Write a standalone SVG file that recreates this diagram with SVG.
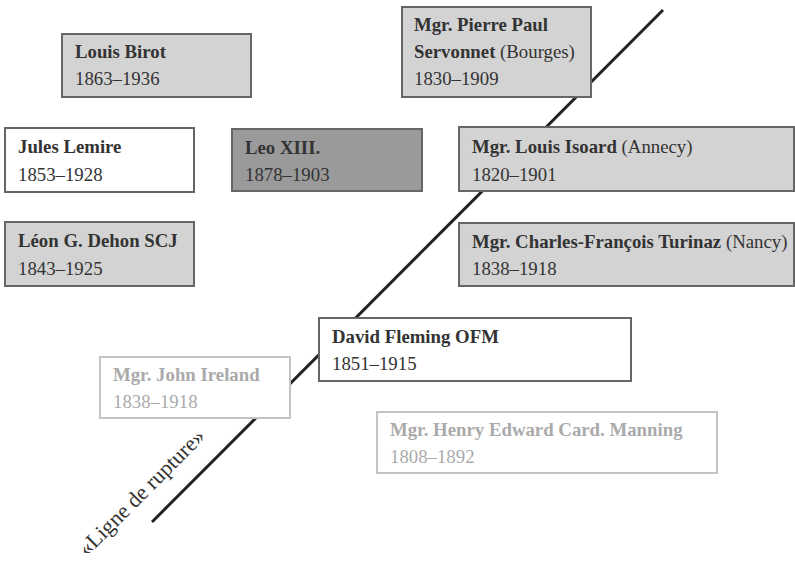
<svg xmlns="http://www.w3.org/2000/svg" width="795" height="562" viewBox="0 0 795 562">
<style>
text{font-family:"Liberation Serif","Times New Roman",serif;font-size:18.8px;fill:#333}
.b{font-weight:bold}
.box{fill:#d3d3d3;stroke:#666;stroke-width:2}
.white{fill:#fff;stroke:#666;stroke-width:2}
.dark{fill:#9a9a9a;stroke:#666;stroke-width:2}
.faint{fill:#fff;stroke:#c4c4c4;stroke-width:2}
.ft{fill:#aaa}
.line{stroke:#222;stroke-width:3;fill:none}
</style>
<rect width="795" height="562" fill="#fff"/>
<g id="connectors">
<line class="line" x1="663" y1="10" x2="152" y2="522"/>
<text transform="translate(87,557) rotate(-45)" style="font-size:22px">«Ligne de rupture»</text>
</g>
<g id="birot">
<rect class="box" x="62" y="34" width="189" height="63"/>
<text x="75" y="58" class="b">Louis Birot</text>
<text x="75" y="85">1863–1936</text>
</g>
<g id="lemire">
<rect class="white" x="5" y="128" width="189" height="64"/>
<text x="18" y="153" class="b">Jules Lemire</text>
<text x="18" y="181">1853–1928</text>
</g>
<g id="dehon">
<rect class="box" x="5" y="222" width="189" height="64"/>
<text x="18" y="247" class="b">Léon G. Dehon SCJ</text>
<text x="18" y="275">1843–1925</text>
</g>
<g id="leo">
<rect class="dark" x="232" y="129" width="190" height="62"/>
<text x="245" y="154" class="b">Leo XIII.</text>
<text x="245" y="181">1878–1903</text>
</g>
<g id="servonnet">
<rect class="box" x="402" y="7" width="189" height="90"/>
<text x="414" y="31" class="b">Mgr. Pierre Paul</text>
<text x="414" y="58"><tspan class="b">Servonnet</tspan> (Bourges)</text>
<text x="414" y="85">1830–1909</text>
</g>
<g id="isoard">
<rect class="box" x="459" y="127" width="335" height="64"/>
<text x="472" y="153"><tspan class="b">Mgr. Louis Isoard</tspan> (Annecy)</text>
<text x="472" y="181">1820–1901</text>
</g>
<g id="turinaz">
<rect class="box" x="459" y="223" width="335" height="63"/>
<text x="472" y="248"><tspan class="b">Mgr. Charles-François Turinaz</tspan> (Nancy)</text>
<text x="472" y="275">1838–1918</text>
</g>
<g id="fleming">
<rect class="white" x="319" y="318" width="312" height="63"/>
<text x="332" y="343" class="b">David Fleming OFM</text>
<text x="332" y="370">1851–1915</text>
</g>
<g id="ireland">
<rect class="faint" x="100" y="357" width="190" height="61"/>
<text x="113" y="381" class="b ft">Mgr. John Ireland</text>
<text x="113" y="408" class="ft">1838–1918</text>
</g>
<g id="manning">
<rect class="faint" x="377" y="412" width="340" height="61"/>
<text x="390" y="436" class="b ft">Mgr. Henry Edward Card. Manning</text>
<text x="390" y="463" class="ft">1808–1892</text>
</g>
</svg>
